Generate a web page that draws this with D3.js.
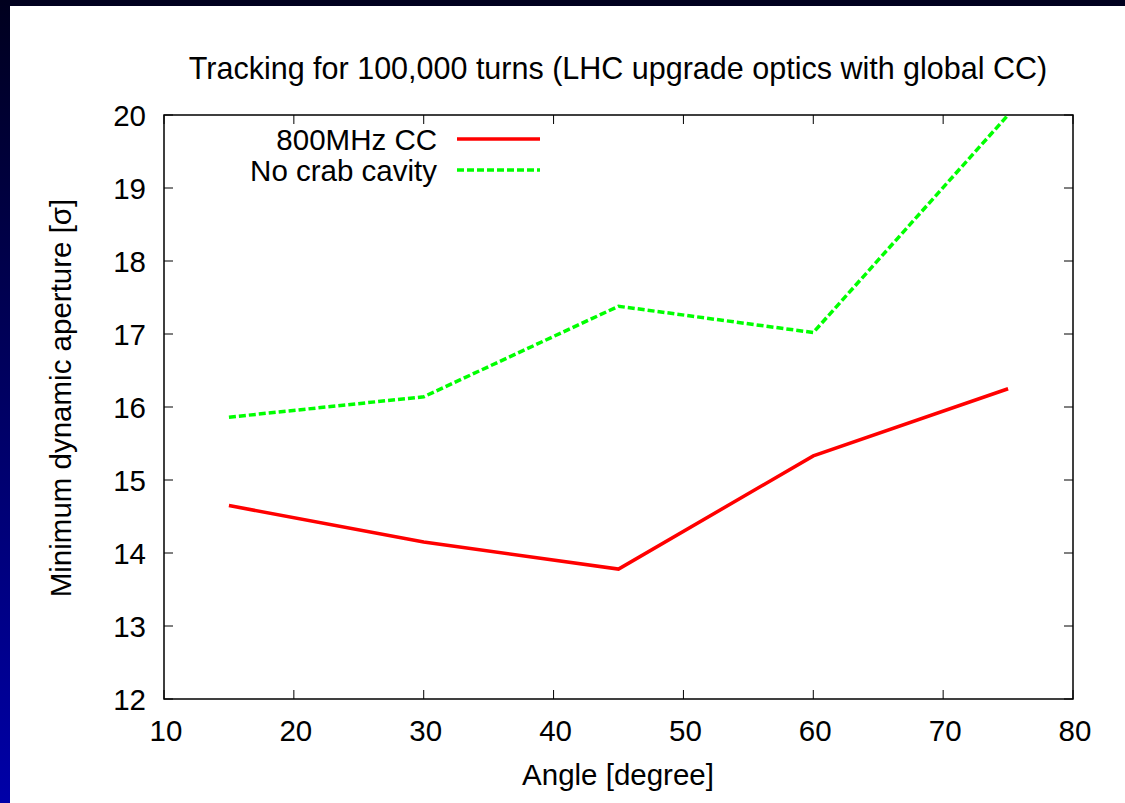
<!DOCTYPE html>
<html><head><meta charset="utf-8">
<script src="https://cdn.jsdelivr.net/npm/d3@7"></script>
<style>html,body{margin:0;padding:0;background:#fff;}svg{display:block;}</style>
</head><body>
<script>
const angles = [15, 30, 45, 60, 75];
const cc800 = [14.65, 14.15, 13.78, 15.33, 16.25];
const noCrab = [15.86, 16.14, 17.38, 17.02, 20.0];
const seriesNames = ["800MHz CC", "No crab cavity"];
const xTicks = [10, 20, 30, 40, 50, 60, 70, 80];
const yTicks = [12, 13, 14, 15, 16, 17, 18, 19, 20];
const title = "Tracking for 100,000 turns (LHC upgrade optics with global CC)";
const xLabel = "Angle [degree]";
const yLabel = "Minimum dynamic aperture [σ]";

const W = 1125, H = 803;
const font = "'Liberation Sans', Arial, Helvetica, sans-serif";
const FS = 29.5;
const svg = d3.select("body").append("svg").attr("width", W).attr("height", H);
const defs = svg.append("defs");
const g = defs.append("linearGradient").attr("id","bg").attr("x1",0).attr("y1",0).attr("x2",0).attr("y2",1);
g.append("stop").attr("offset","0%").attr("stop-color","#00001e");
g.append("stop").attr("offset","100%").attr("stop-color","#0000a8");
svg.append("rect").attr("width",W).attr("height",H).attr("fill","url(#bg)");
svg.append("rect").attr("x",10).attr("y",6).attr("width",W-10).attr("height",H-6).attr("fill","#fff");

const L = 164, R = 1073, T = 115, B = 699;
const x = d3.scaleLinear().domain([10,80]).range([L,R]);
const y = d3.scaleLinear().domain([12,20]).range([B,T]);
const tick = 9;

const ax = svg.append("g").attr("font-family", font).attr("font-size", FS).attr("fill","#000");
xTicks.forEach(v => {
  ax.append("line").attr("x1",x(v)).attr("x2",x(v)).attr("y1",B).attr("y2",B-tick).attr("stroke","#000").attr("stroke-width",1);
  ax.append("line").attr("x1",x(v)).attr("x2",x(v)).attr("y1",T).attr("y2",T+tick).attr("stroke","#000").attr("stroke-width",1);
  ax.append("text").attr("x",x(v)+2).attr("y",B+42).attr("text-anchor","middle").text(v);
});
yTicks.forEach(v => {
  ax.append("line").attr("x1",L).attr("x2",L+tick).attr("y1",y(v)).attr("y2",y(v)).attr("stroke","#000").attr("stroke-width",1);
  ax.append("line").attr("x1",R).attr("x2",R-tick).attr("y1",y(v)).attr("y2",y(v)).attr("stroke","#000").attr("stroke-width",1);
  ax.append("text").attr("x",L-18).attr("y",y(v)+10.5).attr("text-anchor","end").text(v);
});
svg.append("rect").attr("x",L).attr("y",T).attr("width",R-L).attr("height",B-T).attr("fill","none").attr("stroke","#000").attr("stroke-width",1.5);

svg.append("text").attr("x",618).attr("y",79).attr("text-anchor","middle").attr("font-family",font).attr("font-size",30.5).text(title);
svg.append("text").attr("x",618).attr("y",785).attr("text-anchor","middle").attr("font-family",font).attr("font-size",FS).text(xLabel);
svg.append("text").attr("transform","translate(71,398) rotate(-90)").attr("text-anchor","middle").attr("font-family",font).attr("font-size",FS).text(yLabel);

const line = d3.line().x((d,i)=>x(angles[i])).y(d=>y(d));
svg.append("defs").append("clipPath").attr("id","clip").append("rect").attr("x",L).attr("y",T).attr("width",R-L).attr("height",B-T);
const series = [
  {name: seriesNames[0], vals: cc800, color: "#ff0000", dash: null},
  {name: seriesNames[1], vals: noCrab, color: "#00ff00", dash: "7,3"}
];
series.forEach((s,k) => {
  svg.append("path").attr("d", line(s.vals)).attr("fill","none").attr("stroke",s.color).attr("stroke-width",3.5)
    .attr("stroke-dasharray", s.dash).attr("clip-path","url(#clip)");
  const ly = 139 + k*31;
  svg.append("text").attr("x",437).attr("y",ly+10.5).attr("text-anchor","end").attr("font-family",font).attr("font-size",FS).text(s.name);
  svg.append("line").attr("x1",457).attr("x2",540).attr("y1",ly).attr("y2",ly).attr("stroke",s.color).attr("stroke-width",3.5).attr("stroke-dasharray", s.dash);
});
</script>
</body></html>
